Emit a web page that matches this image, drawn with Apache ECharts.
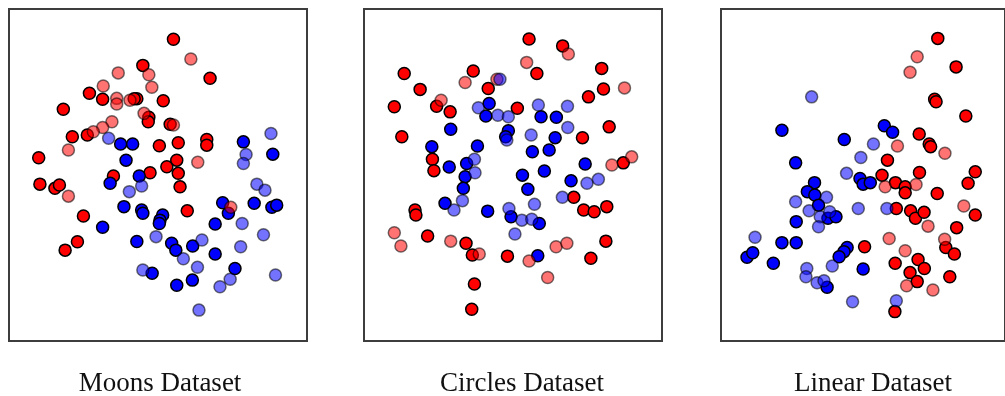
<!DOCTYPE html>
<html>
<head>
<meta charset="utf-8">
<script src="https://cdn.jsdelivr.net/npm/echarts@6/dist/echarts.min.js"></script>
<style>
  html, body { margin: 0; padding: 0; background: #fff; }
  #chart { width: 1005px; height: 396px; }
</style>
</head>
<body>
<div id="chart"></div>
<script>
// Panel titles
const panelTitles = ['Moons Dataset', 'Circles Dataset', 'Linear Dataset'];

// Feature space extent shared by all panels
const xExtent = [0, 99.3];
const yExtent = [0, 110.7];

// ---- Moons ----
const moonsTrainRed = [
  [54.8,100.6],[44.6,91.9],[67.0,87.6],[26.8,82.6],[31.2,80.6],[42.6,80.8],[41.7,80.8],
  [51.4,80.1],[18.1,77.3],[46.6,74.6],[46.4,73.1],[26.1,68.7],[21.1,68.1],[9.9,61.1],
  [53.7,72.3],[50.1,65.1],[56.4,66.1],[65.9,67.2],[65.9,65.3],[52.6,58.1],[55.9,60.3],
  [56.4,55.9],[47.0,56.1],[34.8,55.0],[10.3,52.3],[15.3,50.9],[16.8,52.0],[57.0,51.4],
  [59.4,43.4],[24.8,41.7],[22.8,33.1],[18.7,30.3]
];
const moonsTrainBlue = [
  [37.2,65.7],[41.2,65.7],[39.0,60.3],[78.1,66.4],[87.9,62.3],[43.4,55.0],[33.7,52.6],
  [71.2,46.1],[73.1,42.6],[81.7,45.9],[87.6,44.6],[89.2,45.3],[38.3,44.8],[44.2,43.7],
  [44.6,42.6],[51.2,42.0],[50.3,40.3],[50.1,39.2],[31.2,37.9],[68.7,39.0],[42.6,33.2],
  [54.2,32.6],[55.6,30.3],[61.2,31.7],[68.7,29.0],[75.3,24.2],[47.7,22.6],[61.1,20.3],
  [55.9,18.6]
];
const moonsTestRed = [
  [60.6,94.0],[36.4,89.4],[46.6,88.8],[47.6,84.6],[31.4,85.0],[35.9,80.9],[35.9,79.0],
  [40.3,80.3],[45.0,75.9],[34.3,73.1],[31.2,71.2],[28.1,69.8],[19.8,63.7],[54.8,72.0],
  [62.9,59.6],[19.8,48.3],[73.9,44.6]
];
const moonsTestBlue = [
  [33.2,67.6],[79.0,62.2],[87.3,69.2],[78.1,59.2],[44.2,51.7],[40.1,49.8],[82.6,52.3],
  [85.3,50.3],[77.7,39.2],[84.8,35.4],[49.0,34.8],[64.3,33.7],[77.2,31.4],[58.1,27.4],
  [62.8,24.6],[44.6,23.7],[73.7,20.6],[70.3,18.1],[88.8,22.0],[63.3,10.3]
];

// ---- Circles ----
const circlesTrainRed = [
  [55.0,100.7],[66.2,98.4],[57.6,89.2],[13.4,89.2],[36.4,90.0],[41.4,84.2],[18.7,83.9],
  [79.2,90.9],[79.8,84.0],[74.8,81.4],[10.1,78.1],[24.2,78.3],[28.7,76.4],[51.1,77.6],
  [81.7,71.4],[12.6,68.1],[72.8,67.8],[22.8,60.6],[86.4,59.4],[23.3,56.8],[17.0,43.7],
  [17.3,42.0],[69.9,47.9],[73.2,43.7],[76.7,43.1],[80.9,44.8],[21.2,35.0],[34.0,32.6],
  [36.1,28.7],[47.8,28.3],[80.6,33.3],[75.6,27.6],[36.8,19.0],[35.9,10.6]
];
const circlesTrainBlue = [
  [41.7,79.2],[40.6,75.0],[59.0,74.8],[64.1,74.6],[28.9,70.6],[48.1,70.1],[47.2,68.1],
  [63.7,67.8],[22.6,64.8],[37.8,65.0],[56.1,63.1],[61.7,63.7],[34.2,59.2],[28.4,58.0],
  [73.7,59.0],[33.7,54.8],[33.1,50.9],[27.0,45.9],[41.2,43.3],[52.8,55.3],[60.1,56.7],
  [54.6,50.6],[69.0,53.4],[49.0,41.4],[58.4,39.2],[57.9,28.4]
];
const circlesTestRed = [
  [68.1,95.7],[54.2,92.9],[33.7,86.2],[44.3,87.3],[86.8,84.4],[25.7,80.3],[82.6,58.7],
  [89.2,61.4],[10.1,36.1],[12.3,31.7],[28.9,33.3],[38.4,29.0],[55.0,26.7],[64.0,31.4],
  [67.6,32.6],[61.2,21.2]
];
const circlesTestBlue = [
  [45.3,87.3],[38.1,77.8],[44.6,75.3],[48.1,74.8],[58.1,78.7],[67.8,78.3],[67.9,71.2],
  [47.6,67.0],[55.7,68.7],[36.8,60.6],[37.0,56.1],[32.8,46.8],[30.0,43.7],[74.3,52.6],
  [78.1,53.9],[66.1,47.9],[48.3,44.2],[52.6,40.3],[56.8,45.6],[55.9,40.6],[50.3,35.7]
];

// ---- Linear ----
const linearTrainRed = [
  [75.8,100.9],[82.2,91.4],[74.7,80.6],[75.2,79.8],[85.6,75.0],[69.3,69.0],[72.8,65.7],
  [73.3,64.8],[58.2,60.3],[56.3,55.3],[61.0,52.8],[64.4,51.4],[64.4,49.4],[69.4,56.2],
  [75.6,49.2],[86.4,52.6],[88.9,56.4],[61.3,44.2],[66.3,43.4],[68.0,40.9],[71.0,42.9],
  [88.9,42.0],[82.4,37.8],[50.2,31.4],[60.9,25.9],[68.9,27.2],[71.1,24.2],[66.1,22.8],
  [68.6,19.8],[78.6,31.2],[81.6,29.0],[80.0,21.4],[60.8,9.8]
];
const linearTrainBlue = [
  [21.3,70.3],[43.1,67.2],[57.1,71.8],[60.0,69.6],[26.1,59.4],[48.6,54.2],[49.7,52.3],
  [52.2,52.8],[32.7,52.8],[30.2,49.8],[32.8,48.7],[34.1,45.3],[37.4,40.9],[40.2,41.4],
  [26.3,39.8],[21.3,32.8],[26.3,32.8],[9.1,27.9],[11.1,29.4],[18.3,25.9],[44.1,31.2],
  [43.0,29.8],[41.3,28.1],[49.7,24.0],[37.1,17.9]
];
const linearTestRed = [
  [68.6,94.8],[66.1,89.6],[61.7,65.0],[78.3,62.6],[57.4,51.4],[68.2,52.2],[72.4,38.3],
  [84.9,45.0],[58.8,34.2],[64.4,30.1],[64.9,18.4],[74.1,17.0],[78.2,33.9]
];
const linearTestBlue = [
  [31.7,81.4],[53.3,65.7],[48.9,61.2],[43.9,55.9],[36.9,47.9],[26.1,46.4],[30.8,43.4],
  [34.7,41.4],[34.1,38.1],[38.0,43.1],[48.0,44.2],[58.0,44.2],[11.9,34.6],[38.9,25.0],
  [30.0,24.2],[29.7,21.4],[33.6,19.4],[36.0,20.1],[46.0,13.1],[61.3,13.4]
];

const panels = [
  { train: [moonsTrainRed, moonsTrainBlue], test: [moonsTestRed, moonsTestBlue] },
  { train: [circlesTrainRed, circlesTrainBlue], test: [circlesTestRed, circlesTestBlue] },
  { train: [linearTrainRed, linearTrainBlue], test: [linearTestRed, linearTestBlue] }
];

const classColors = ['#ff0000', '#0000ff'];
const panelLeft = [9, 364, 721];
const titleCenters = [155, 517, 868];

const grids = panelLeft.map(l => ({
  left: l, top: 9, width: 298, height: 332,
  show: true, borderColor: '#3d3d3d', borderWidth: 2, backgroundColor: '#fff'
}));

const hiddenAxis = (extent, idx) => ({
  type: 'value', gridIndex: idx, min: extent[0], max: extent[1],
  axisLine: { show: false }, axisTick: { show: false },
  axisLabel: { show: false }, splitLine: { show: false }
});

const series = [];
panels.forEach((p, i) => {
  // training points: opaque with black edge
  p.train.forEach((pts, c) => series.push({
    type: 'scatter', xAxisIndex: i, yAxisIndex: i, data: pts,
    symbolSize: 12, silent: true,
    itemStyle: { color: classColors[c], borderColor: '#000', borderWidth: 1.5, opacity: 1 }
  }));
});
panels.forEach((p, i) => {
  // test points: translucent, drawn on top
  p.test.forEach((pts, c) => series.push({
    type: 'scatter', xAxisIndex: i, yAxisIndex: i, data: pts,
    symbolSize: 12, silent: true, z: 3,
    itemStyle: { color: classColors[c], borderColor: '#000', borderWidth: 1.5, opacity: 0.55 }
  }));
});

const chart = echarts.init(document.getElementById('chart'), null, { renderer: 'canvas' });
chart.setOption({
  animation: false,
  backgroundColor: '#fff',
  title: panelTitles.map((t, i) => ({
    text: t,
    left: titleCenters[i], top: 365, textAlign: 'center',
    textStyle: { fontFamily: 'Liberation Serif', fontSize: 27, fontWeight: 'normal', color: '#111' }
  })),
  grid: grids,
  xAxis: grids.map((g, i) => hiddenAxis(xExtent, i)),
  yAxis: grids.map((g, i) => hiddenAxis(yExtent, i)),
  series: series
});
</script>
</body>
</html>
